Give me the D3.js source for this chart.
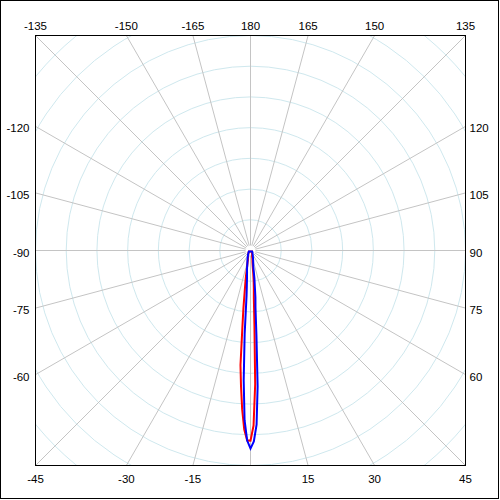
<!DOCTYPE html>
<html>
<head>
<meta charset="utf-8">
<script src="https://cdn.jsdelivr.net/npm/d3@7"></script>
<style>
  html, body { margin: 0; padding: 0; background: #fff; }
  svg { display: block; }
  text { font-family: "Liberation Sans", Arial, sans-serif; font-size: 11.5px; fill: #000; }
</style>
</head>
<body>
<svg id="chart" width="500" height="500"></svg>
<script>
// ---- data ----
const angles = [-60,-45,-30,-20,-15,-14,-13,-12,-11,-10,-9,-8,-7,-6,-5,-4,-3,-2,-1,0,1,2,3,4,5,6,7,8,9,10,11,12,13,14,15,20,30,45,60];
const seriesRed = [0.6,0.9,1.5,2.4,3.3,3.9,4.6,5.2,6.5,8.5,10.7,13.7,18.9,25.4,37.4,44.3,51.8,58.3,61.9,61.9,57.0,43.6,24.4,15.6,12.4,9.8,7.2,5.2,4.2,3.6,3.3,2.9,2.6,2.3,2.0,1.5,1.0,0.8,0.6];
const seriesBlue = [0.6,0.9,1.6,2.8,3.9,4.2,4.6,5.2,5.9,6.5,7.2,8.1,9.4,11.4,14.7,27.3,42.3,55.3,61.9,64.5,62.2,56.7,44.3,27.7,18.6,15.3,11.4,9.1,6.5,5.2,4.6,4.2,3.9,3.6,3.3,2.3,1.4,0.9,0.6];
const spokeAngles = d3.range(-165, 181, 15);
const ringValues = [10,20,30,40,50,60,70,80,90];
const topLabels = [-135,-150,-165,180,165,150,135];
const leftLabels = [-120,-105,-90,-75,-60];
const rightLabels = [120,105,90,75,60];
const bottomLabels = [-45,-30,-15,15,30,45];

// ---- layout ----
const svg = d3.select("#chart");
const cx = 250.5, cy = 250.5, half = 215;
const x0 = cx - half, x1 = cx + half, y0 = cy - half, y1 = cy + half;
const r = d3.scaleLinear().domain([0, 70]).range([0, half]);
const rad = d => d * Math.PI / 180;

// outer frame
svg.append("rect").attr("x", 0.5).attr("y", 0.5).attr("width", 498).attr("height", 498)
  .attr("fill", "#fff").attr("stroke", "#000").attr("stroke-width", 1);

svg.append("clipPath").attr("id", "clip").append("rect")
  .attr("x", x0).attr("y", y0).attr("width", 2*half).attr("height", 2*half);

const gridG = svg.append("g").attr("clip-path", "url(#clip)");
const inner = gridG.append("g").attr("transform", `translate(${cx},${cy})`);

inner.selectAll("circle.ring").data(ringValues).join("circle")
  .attr("class", "ring").attr("r", d => r(d))
  .attr("fill", "none").attr("stroke", "#cfe8ee").attr("stroke-width", 1);

inner.selectAll("line.spoke").data(spokeAngles).join("line")
  .attr("class", "spoke")
  .attr("x1", d => 5 * Math.sin(rad(d))).attr("y1", d => 5 * Math.cos(rad(d)))
  .attr("x2", d => 400 * Math.sin(rad(d))).attr("y2", d => 400 * Math.cos(rad(d)))
  .attr("stroke", "#c4c4c4").attr("stroke-width", 1);

// series
const radial = d3.lineRadial()
  .angle(d => Math.PI - rad(d[0]))
  .radius(d => r(d[1]))
  .curve(d3.curveLinearClosed);

const dataRed = angles.map((a, i) => [a, seriesRed[i]]);
const dataBlue = angles.map((a, i) => [a, seriesBlue[i]]);

inner.append("path").datum(dataRed).attr("d", radial)
  .attr("fill", "none").attr("stroke", "#ff0000").attr("stroke-width", 2);
inner.append("path").datum(dataBlue).attr("d", radial)
  .attr("fill", "none").attr("stroke", "#0000ff").attr("stroke-width", 2);

// inner box
svg.append("rect").attr("x", x0).attr("y", y0).attr("width", 2*half).attr("height", 2*half)
  .attr("fill", "none").attr("stroke", "#000").attr("stroke-width", 1);

// labels: position where spoke meets box
function edgePoint(a) {
  const dx = Math.sin(rad(a)), dy = Math.cos(rad(a));
  const t = half / Math.max(Math.abs(dx), Math.abs(dy));
  return [cx + dx * t, cy + dy * t];
}
const lab = svg.append("g");
lab.selectAll("text.top").data(topLabels).join("text")
  .attr("x", d => edgePoint(d)[0]).attr("y", y0 - 6)
  .attr("text-anchor", "middle").text(d => d);
lab.selectAll("text.bottom").data(bottomLabels).join("text")
  .attr("x", d => edgePoint(d)[0]).attr("y", y1 + 17)
  .attr("text-anchor", "middle").text(d => d);
lab.selectAll("text.left").data(leftLabels).join("text")
  .attr("x", x0 - 6).attr("y", d => edgePoint(d)[1] + 6)
  .attr("text-anchor", "end").text(d => d);
lab.selectAll("text.right").data(rightLabels).join("text")
  .attr("x", x1 + 4).attr("y", d => edgePoint(d)[1] + 6)
  .attr("text-anchor", "start").text(d => d);
</script>
</body>
</html>
